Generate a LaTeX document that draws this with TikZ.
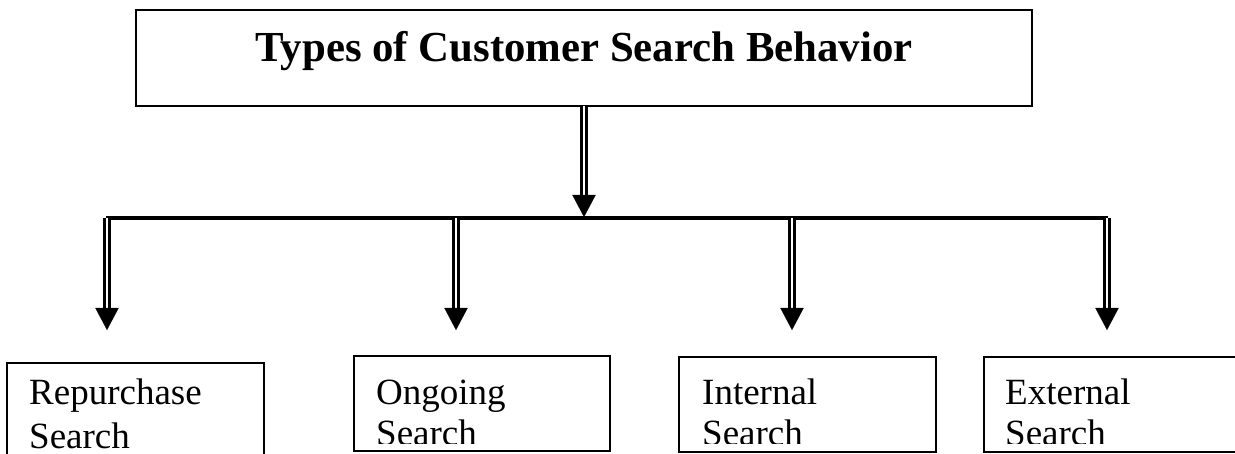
\documentclass[tikz,border=0pt]{standalone}
\usepackage{fontspec}
\setmainfont{Liberation Serif}
\usetikzlibrary{arrows.meta}

\begin{document}
\begin{tikzpicture}[x=1pt,y=-1pt,
  titlebox/.style={draw, line width=2.5pt, inner sep=0pt, outer sep=0pt},
  titletext/.style={anchor=base, inner sep=0pt, font=\bfseries\fontsize{42.8}{48}\selectfont},
  leafbox/.style={draw, line width=2pt, inner sep=0pt, outer sep=0pt, anchor=north west},
  leaftext/.style={anchor=base west, inner sep=0pt, font=\fontsize{37}{42}\selectfont},
  shaft/.style={draw, line width=2.7pt, double=white, double distance=2pt},
  head/.style={-{Triangle[width=23.3pt,length=22pt]}, line width=0.1pt},
  bar/.style={line width=3.5pt}]
\useasboundingbox (0,0) rectangle (1235,454);
\clip (0,0) rectangle (1235,454);

% heading box
\node[titlebox, minimum width=896pt, minimum height=96pt] (top) at (584,58) {};
\node[titletext] (ttl) at (584,62) {Types of Customer Search Behavior};

% main arrow down to the distribution bar
\coordinate (t0) at (584,217);
\coordinate (t0s) at (584,200);
\draw[shaft] (top.south) -- (t0s);
\draw[head] (t0s) -- (t0);

% distribution bar
\coordinate (barL) at (106,218);
\coordinate (barR) at (1108,218);
\draw[bar] (barL) -- (barR);

% branch arrows
\foreach \i/\x in {1/107, 2/456, 3/792, 4/1107} {
  \coordinate (s\i) at (\x,218);
  \coordinate (m\i) at (\x,314);
  \coordinate (e\i) at (\x,330);
  \draw[shaft] (s\i) -- (m\i);
  \draw[head] (m\i) -- (e\i);
}

% leaf boxes
\node[leafbox, minimum width=257pt, minimum height=110pt] (b1) at (7,363) {};
\node[leafbox, minimum width=256pt, minimum height=95pt] (b2) at (354,356) {};
\node[leafbox, minimum width=257pt, minimum height=95pt] (b3) at (679,357) {};
\node[leafbox, minimum width=270pt, minimum height=95pt] (b4) at (984,357) {};

% leaf labels, cut off a little above the lower edge of each box
\begin{scope}
  \clip (b1.north west) rectangle (b1.south east);
  \node[leaftext] (b1a) at (29,405) {Repurchase};
  \node[leaftext] (b1b) at (29,448) {Search};
\end{scope}
\begin{scope}
  \clip (b2.north west) rectangle (b2.east |- 0,443);
  \node[leaftext] (b2a) at (376,404) {Ongoing};
  \node[leaftext] (b2b) at (376,446) {Search};
\end{scope}
\begin{scope}
  \clip (b3.north west) rectangle (b3.east |- 0,443);
  \node[leaftext] (b3a) at (702,404) {Internal};
  \node[leaftext] (b3b) at (702,446) {Search};
\end{scope}
\begin{scope}
  \clip (b4.north west) rectangle (b4.east |- 0,443);
  \node[leaftext] (b4a) at (1005,404) {External};
  \node[leaftext] (b4b) at (1005,446) {Search};
\end{scope}
\end{tikzpicture}
\end{document}
